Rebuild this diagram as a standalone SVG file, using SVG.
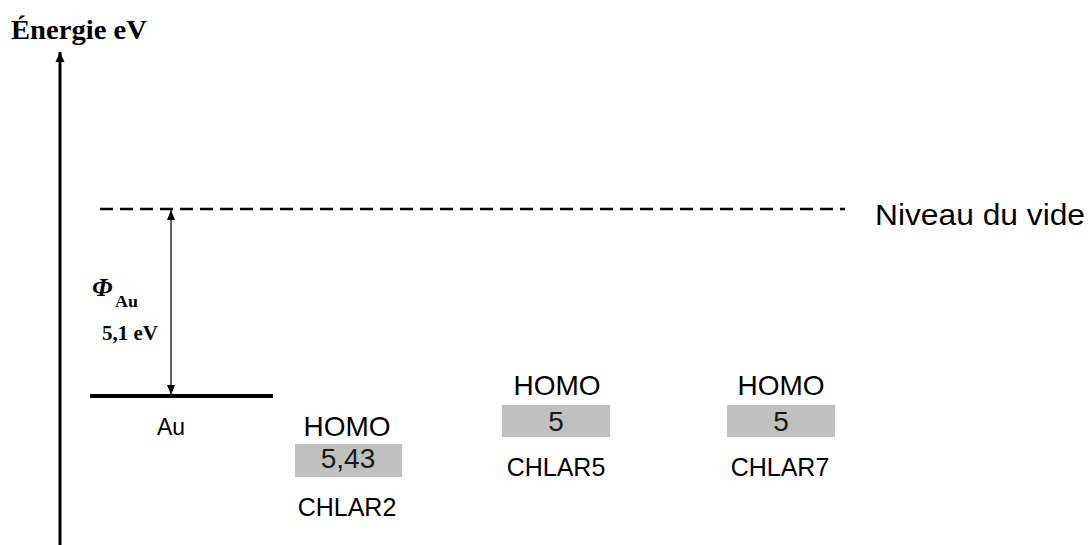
<svg xmlns="http://www.w3.org/2000/svg" width="1090" height="545" viewBox="0 0 1090 545">
<defs>
<marker id="ah" viewBox="0 0 10 10" refX="10" refY="5" markerWidth="10" markerHeight="10" markerUnits="userSpaceOnUse" orient="auto-start-reverse"><path d="M0,1 L10,5 L0,9 Z" fill="#000"/></marker>
<marker id="ahBig" viewBox="0 0 10 10" refX="10" refY="5" markerWidth="12" markerHeight="10" markerUnits="userSpaceOnUse" orient="auto"><path d="M0,0.5 L10,5 L0,9.5 Z" fill="#000"/></marker>
</defs>
<style>
.sans{font-family:"Liberation Sans",Arial,sans-serif;fill:#000}
.serif{font-family:"Liberation Serif","Times New Roman",serif;font-weight:bold;fill:#000}
.box{fill:#c0c0c0}
.val{font-family:"Liberation Sans",Arial,sans-serif;font-size:28px;text-anchor:middle;fill:#1a1a1a}
.homo{font-size:28px;text-anchor:middle}
.lab{font-size:25px;text-anchor:middle}
</style>
<rect width="1090" height="545" fill="#fff"/>
<g id="connectors">
<line x1="60" y1="545" x2="60" y2="52" stroke="#000" stroke-width="3" marker-end="url(#ahBig)"/>
<line x1="100" y1="209" x2="845" y2="209" stroke="#000" stroke-width="2.5" stroke-dasharray="13 7"/>
<line x1="171" y1="210" x2="171" y2="395" stroke="#000" stroke-width="1.2" marker-start="url(#ah)" marker-end="url(#ah)"/>
</g>
<g id="axis-label"><text class="serif" x="11" y="39" font-size="28" textLength="136" lengthAdjust="spacingAndGlyphs">Énergie eV</text></g>
<g id="vacuum"><text class="sans" x="875" y="225" font-size="30" textLength="210" lengthAdjust="spacingAndGlyphs">Niveau du vide</text></g>
<g id="phi">
<text class="serif" x="92" y="296" font-size="26" font-style="italic">Φ</text>
<text class="serif" x="115" y="307" font-size="16" textLength="23" lengthAdjust="spacingAndGlyphs">Au</text>
<text class="serif" x="102" y="340" font-size="21" textLength="56" lengthAdjust="spacingAndGlyphs">5,1 eV</text>
</g>
<g id="au">
<line x1="90" y1="396" x2="273" y2="396" stroke="#000" stroke-width="4"/>
<text class="sans" x="157" y="435" font-size="23" textLength="28" lengthAdjust="spacingAndGlyphs">Au</text>
</g>
<g id="chlar2">
<text class="sans homo" x="347" y="436">HOMO</text>
<rect class="box" x="295" y="444" width="107" height="33"/>
<text class="val" x="348" y="468">5,43</text>
<text class="sans lab" x="347" y="516">CHLAR2</text>
</g>
<g id="chlar5">
<text class="sans homo" x="557" y="395">HOMO</text>
<rect class="box" x="502" y="405" width="108" height="32"/>
<text class="val" x="556" y="431">5</text>
<text class="sans lab" x="556" y="476">CHLAR5</text>
</g>
<g id="chlar7">
<text class="sans homo" x="781" y="395">HOMO</text>
<rect class="box" x="727" y="405" width="108" height="32"/>
<text class="val" x="781" y="431">5</text>
<text class="sans lab" x="780" y="476">CHLAR7</text>
</g>
</svg>
